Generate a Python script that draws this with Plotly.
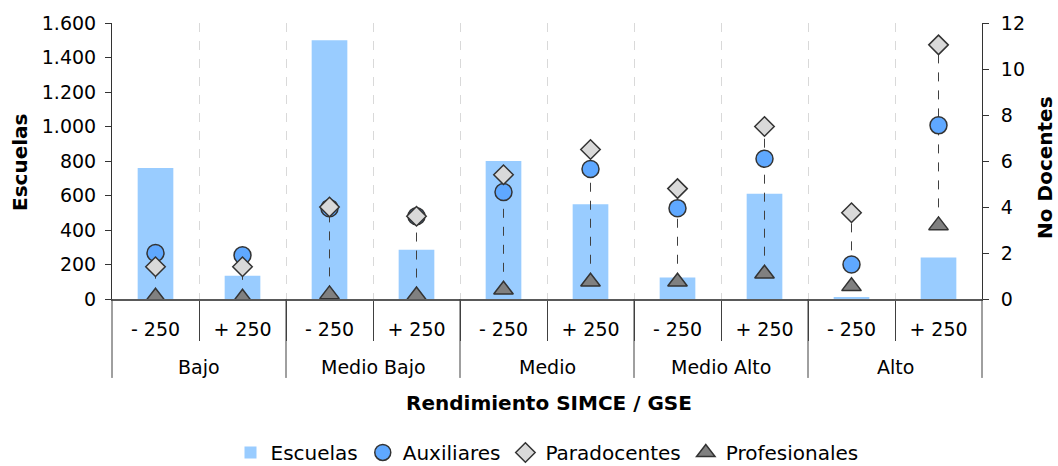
import plotly.graph_objects as go

# Categories: performance band (SIMCE) within socio-economic group (GSE)
groups = ["Bajo", "Medio Bajo", "Medio", "Medio Alto", "Alto"]
subgroups = ["- 250", "+ 250"]

# Number of schools (left axis)
escuelas = [760, 135, 1500, 285, 800, 550, 125, 610, 6, 240]

# Average staff per school (right axis)
auxiliares = [2.0, 1.9, 3.95, 3.6, 4.65, 5.65, 3.95, 6.1, 1.5, 7.55]
paradocentes = [1.4, 1.4, 4.0, 3.6, 5.4, 6.5, 4.8, 7.5, 3.75, 11.05]
profesionales = [0.1, 0.05, 0.2, 0.15, 0.4, 0.75, 0.75, 1.1, 0.55, 3.2]

FONT = "DejaVu Sans"
n = len(escuelas)
xs = list(range(n))
labels = [s for _ in groups for s in subgroups]
per_group = len(subgroups)

fig = go.Figure()

fig.add_trace(go.Bar(
    x=xs, y=escuelas, name="Escuelas", width=0.41,
    marker=dict(color="#99CCFF", line=dict(width=0)),
    yaxis="y",
))

# High-low dashed connectors between the staff series of each category
for i in xs:
    vals = [auxiliares[i], paradocentes[i], profesionales[i]]
    fig.add_trace(go.Scatter(
        x=[i, i], y=[min(vals), max(vals)], mode="lines",
        line=dict(color="#404040", width=1, dash="dash"),
        yaxis="y2", showlegend=False, hoverinfo="skip",
    ))

marker_line = dict(color="#333333", width=1.5)
fig.add_trace(go.Scatter(
    x=xs, y=auxiliares, name="Auxiliares", mode="markers", yaxis="y2",
    marker=dict(symbol="circle", size=17, color="#5FA8FF", line=marker_line),
))
fig.add_trace(go.Scatter(
    x=xs, y=paradocentes, name="Paradocentes", mode="markers", yaxis="y2",
    marker=dict(symbol="diamond", size=15, color="#D9D9D9", line=marker_line),
))
fig.add_trace(go.Scatter(
    x=xs, y=profesionales, name="Profesionales", mode="markers", yaxis="y2",
    marker=dict(symbol="triangle-up", size=17, color="#808080", line=marker_line),
))

# Paper coordinates of the category boundaries
bounds = [(k + 0.5) for k in range(n - 1)]
group_bounds = [-0.5] + [g * per_group - 0.5 for g in range(1, len(groups))] + [n - 0.5]
to_paper = lambda v: (v + 0.5) / n

shapes = []
for b in group_bounds:
    shapes.append(dict(
        type="line", xref="paper", yref="paper",
        x0=to_paper(b), x1=to_paper(b), y0=0, y1=-0.286,
        line=dict(color="#404040", width=1),
    ))

annotations = []
for g, name in enumerate(groups):
    annotations.append(dict(
        text=name, xref="paper", yref="paper",
        x=(g * per_group + per_group / 2) / n, y=-0.246,
        xanchor="center", yanchor="middle", showarrow=False,
        font=dict(family=FONT, size=19, color="#000000"),
    ))

title_font = dict(family=FONT, size=20, color="#000000")
annotations += [
    dict(text="<b>Rendimiento SIMCE / GSE</b>", xref="paper", yref="paper",
         x=0.5023, y=-0.377, xanchor="center", yanchor="middle",
         showarrow=False, font=title_font),
    dict(text="<b>Escuelas</b>", xref="paper", yref="paper", textangle=-90,
         x=-0.1057, y=0.493, xanchor="center", yanchor="middle",
         showarrow=False, font=title_font),
    dict(text="<b>No Docentes</b>", xref="paper", yref="paper", textangle=-90,
         x=1.0724, y=0.475, xanchor="center", yanchor="middle",
         showarrow=False, font=title_font),
]

tick_font = dict(family=FONT, size=19, color="#000000")

fig.update_layout(
    width=1058, height=466,
    margin=dict(l=112, r=76, t=23, b=167, autoexpand=False),
    paper_bgcolor="white", plot_bgcolor="white",
    separators=",.",
    font=dict(family=FONT, size=19, color="#000000"),
    barmode="overlay",
    showlegend=True,
    legend=dict(
        orientation="h", x=0.5, xanchor="center", y=-0.556, yanchor="middle",
        font=dict(family=FONT, size=20, color="#000000"),
        itemsizing="trace", tracegroupgap=0, itemwidth=30,
        bgcolor="rgba(0,0,0,0)",
    ),
    xaxis=dict(
        range=[-0.5, n - 0.5], tickmode="array", tickvals=xs, ticktext=labels,
        ticks="outside", ticklen=12, tickcolor="rgba(0,0,0,0)",
        tickfont=tick_font, showgrid=False, zeroline=False,
        showline=True, linecolor="#595959", linewidth=1.5,
        minor=dict(
            tickmode="array", tickvals=bounds, ticks="outside", ticklen=40,
            tickcolor="#404040", tickwidth=1,
            showgrid=True, gridcolor="#D9D9D9", griddash="dash", gridwidth=1,
        ),
        fixedrange=True,
    ),
    yaxis=dict(
        range=[0, 1600], dtick=200, tickformat=",d", tickfont=tick_font,
        ticks="outside", ticklen=6, tickcolor="#333333",
        showline=True, linecolor="#333333", linewidth=1,
        showgrid=False, zeroline=False, ticklabelstandoff=5,
    ),
    yaxis2=dict(
        range=[0, 12], dtick=2, tickfont=tick_font, overlaying="y", side="right",
        ticks="outside", ticklen=6, tickcolor="#333333",
        showline=True, linecolor="#333333", linewidth=1,
        showgrid=False, zeroline=False, ticklabelstandoff=8,
    ),
    shapes=shapes,
    annotations=annotations,
)

fig.write_html("out.html")
